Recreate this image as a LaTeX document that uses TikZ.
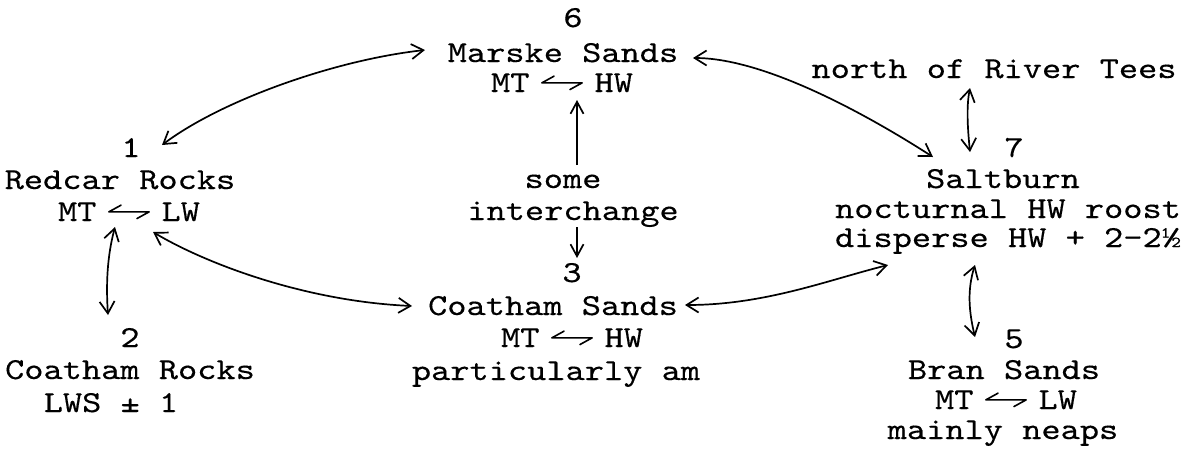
\documentclass[tikz,border=0pt]{standalone}
\usepackage{fontspec}
\newfontfamily\tw{lmmono10-regular}[Extension=.otf,FakeStretch=1.2,FakeBold=0.35]
\usetikzlibrary{arrows.meta}
\newcommand\hp{\hspace{0.38em}\tikz[x=1em,y=1em,baseline=0pt,line width=1.6pt,line cap=round,line join=round]{\draw (0.4,0.52)--(0,0.3)--(1.32,0.3)--(0.92,0.08);}\hspace{0.38em}}
\tikzset{
  lbl/.style={font=\tw\fontsize{30.5}{32}\selectfont, inner sep=0pt, anchor=base},
  link/.style={line width=1.7pt, {Straight Barb[length=12pt,width=15pt]}-{Straight Barb[length=12pt,width=15pt]}},
  oneway/.style={line width=1.7pt, -{Straight Barb[length=12pt,width=13pt]}}
}
\begin{document}
\begin{tikzpicture}[x=1pt,y=-1pt]
\useasboundingbox (0,0) rectangle (1190,451);
% 6 Marske
\node[lbl] (n6num)  at (573,27) {6};
\node[lbl] (n6name) at (563,62) {Marske Sands};
\node[lbl] (n6tide) at (562,92) {MT\hp HW};
% 1 Redcar
\node[lbl] (n1num)  at (131,157) {1};
\node[lbl] (n1name) at (120,189) {Redcar Rocks};
\node[lbl] (n1tide) at (129,221) {MT\hp LW};
% 2 Coatham Rocks
\node[lbl] (n2num)  at (130,347) {2};
\node[lbl] (n2name) at (130,379) {Coatham Rocks};
\node[lbl] (n2tide) at (111,412) {LWS ± 1};
% middle
\node[lbl] (some)   at (563,188) {some};
\node[lbl] (inter)  at (573,220) {interchange};
% 3 Coatham Sands
\node[lbl] (n3num)  at (572,282) {3};
\node[lbl] (n3name) at (553,315) {Coatham Sands};
\node[lbl] (n3tide) at (572,347) {MT\hp HW};
\node[lbl] (n3note) at (556,380) {particularly am};
% north / 7 Saltburn
\node[lbl] (north)  at (994,78) {north of River Tees};
\node[lbl] (n7num)  at (1014,157) {7};
\node[lbl] (n7name) at (1003,188) {Saltburn};
\node[lbl] (n7a)    at (1008,218) {nocturnal HW roost};
\node[lbl] (n7b)    at (1008,247) {disperse HW + 2-2½};
% 5 Bran Sands
\node[lbl] (n5num)  at (1014,348) {5};
\node[lbl] (n5name) at (1004,379) {Bran Sands};
\node[lbl] (n5tide) at (1006,409) {MT\hp LW};
\node[lbl] (n5note) at (1003,439) {mainly neaps};
% connectors
\draw[link] ([shift={(31,-12)}]n1num.base) .. controls +(60,-45) and +(-90,10) .. ([shift={(-138,-12)}]n6name.base);
\draw[link] ([shift={(130,-4)}]n6name.base) .. controls +(70,0) and +(-70,-45) .. ([shift={(-70,-31)}]n7name.base);
\draw[link] ([shift={(-14,6)}]n1tide.base) .. controls +(-8,30) and +(-2,-30) .. ([shift={(-22,-32)}]n2num.base);
\draw[link] ([shift={(24,11)}]n1tide.base) .. controls +(50,30) and +(-110,-5) .. ([shift={(-141,-9)}]n3name.base);
\draw[link] ([shift={(132,-10)}]n3name.base) .. controls +(80,0) and +(-60,15) .. ([shift={(-120,18)}]n7b.base);
\draw[oneway] ([shift={(14,-23)}]some.base) -- ([shift={(15,8)}]n6tide.base);
\draw[oneway] ([shift={(4,7)}]inter.base) -- ([shift={(5,-24)}]n3num.base);
\draw[link] ([shift={(-24,10)}]north.base) .. controls +(-4,20) and +(-2,-20) .. ([shift={(-44,-5)}]n7num.base);
\draw[link] ([shift={(-33,18)}]n7b.base) .. controls +(-8,25) and +(-6,-25) .. ([shift={(-39,-11)}]n5num.base);
\end{tikzpicture}
\end{document}
